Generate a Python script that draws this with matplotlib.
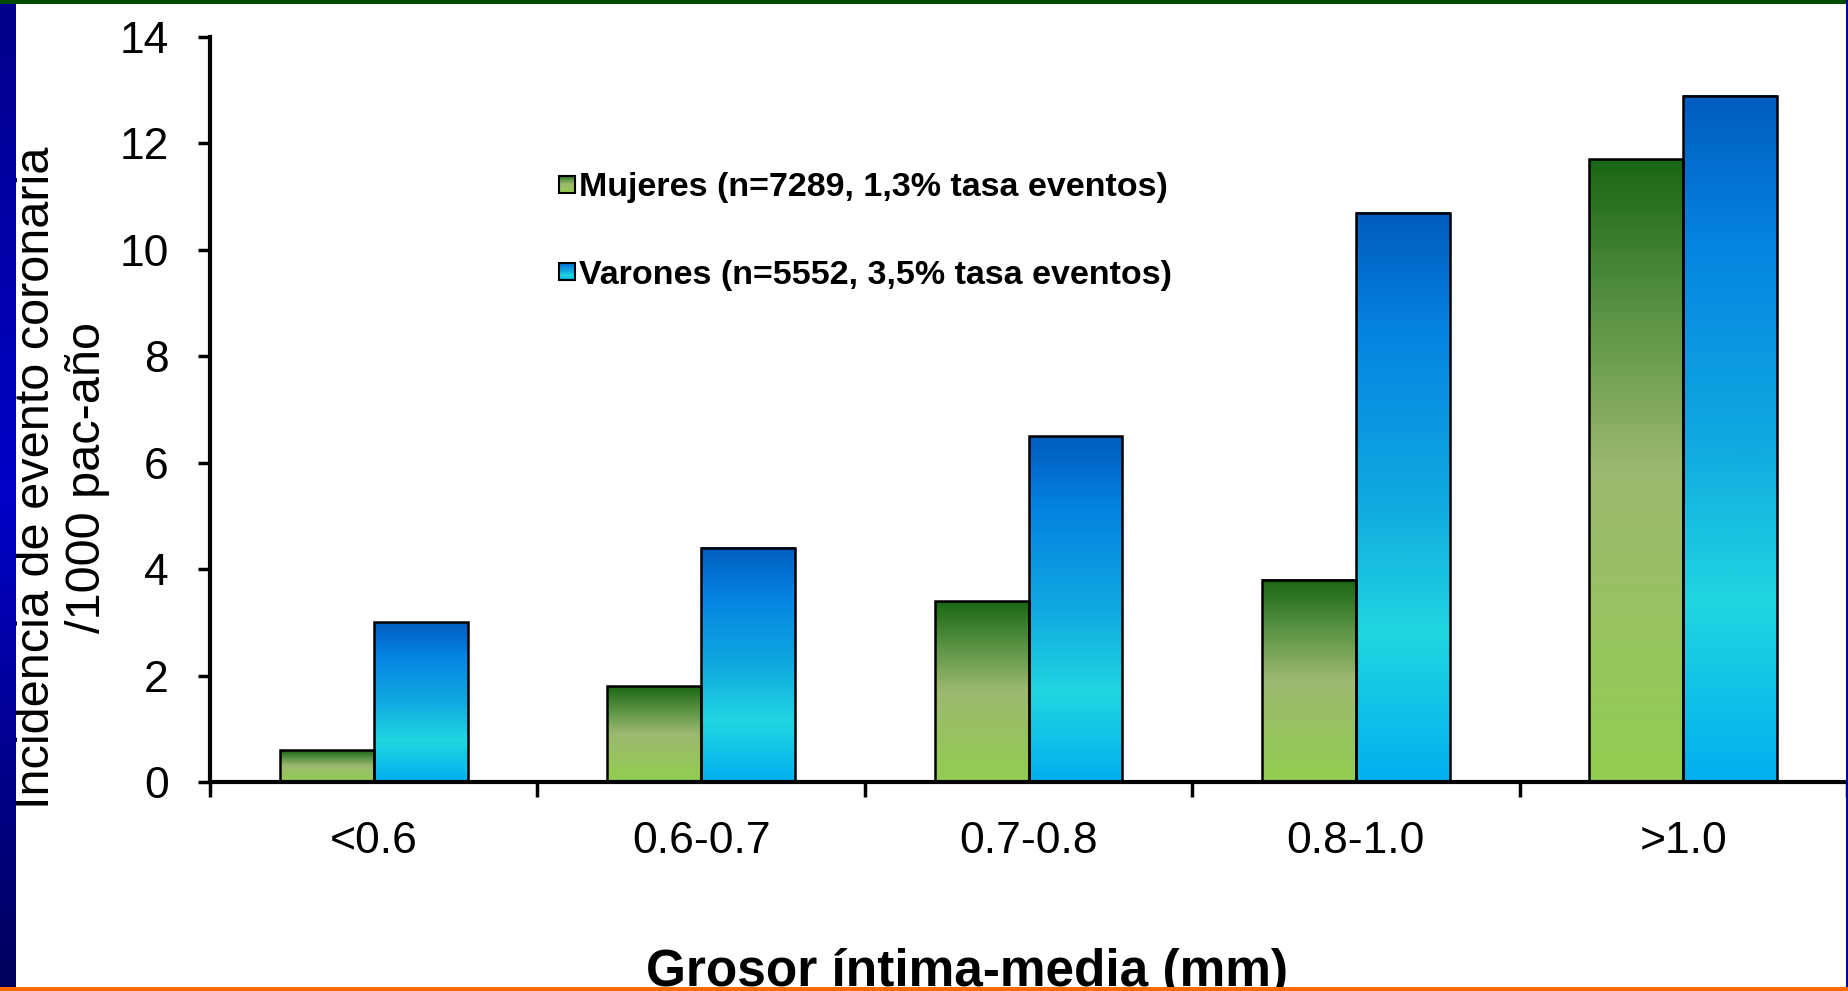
import numpy as np
import matplotlib
matplotlib.use('Agg')
import matplotlib.pyplot as plt
from matplotlib.colors import LinearSegmentedColormap
from matplotlib.patches import Rectangle

# Datos: incidencia de evento coronario por grosor intima-media
categorias = ['<0.6', '0.6-0.7', '0.7-0.8', '0.8-1.0', '>1.0']
mujeres = [0.6, 1.8, 3.4, 3.8, 11.7]
varones = [3.0, 4.4, 6.5, 10.7, 12.9]
serie_mujeres = 'Mujeres (n=7289, 1,3% tasa eventos)'
serie_varones = 'Varones (n=5552, 3,5% tasa eventos)'
yticks = [0, 2, 4, 6, 8, 10, 12, 14]

plt.rcParams['font.family'] = ['Liberation Sans', 'DejaVu Sans']

W, H = 1849, 991
fig = plt.figure(figsize=(W / 100, H / 100), dpi=100)
fig.patch.set_facecolor('white')

# degradados de las barras (0 = base, 1 = techo)
verde = LinearSegmentedColormap.from_list(
    'verde', [(0, '#92cd50'), (0.5, '#9db970'), (0.75, '#5a9343'), (1, '#1a6614')])
azul = LinearSegmentedColormap.from_list(
    'azul', [(0, '#00b0f0'), (0.26, '#20d6e0'), (0.5, '#10a8e0'), (0.78, '#0585e2'), (1, '#005cbf')])
grad = np.linspace(0, 1, 256).reshape(-1, 1)

ax = fig.add_axes([210 / W, 1 - 782 / H, (1847 - 210) / W, (782 - 37) / H])

ancho = 0.287
centros = np.arange(len(categorias)) + 0.5


def barra(x0, alto, cmap):
    ax.imshow(grad, extent=[x0, x0 + ancho, 0, alto], origin='lower',
              cmap=cmap, aspect='auto', interpolation='bilinear', zorder=2)
    ax.bar(x0, alto, ancho, align='edge', facecolor='none',
           edgecolor='black', linewidth=1.8, zorder=3)


for c, m, v in zip(centros, mujeres, varones):
    barra(c - ancho, m, verde)
    barra(c, v, azul)

# leyenda manual con cuadritos degradados
for (y0, y1, yb), cmap, txt in [((0.790, 0.814, 0.786), verde, serie_mujeres),
                                ((0.674, 0.697, 0.669), azul, serie_varones)]:
    ax.imshow(grad, extent=[0.213, 0.223, y0, y1], origin='lower', cmap=cmap,
              aspect='auto', transform=ax.transAxes, zorder=4)
    ax.add_patch(Rectangle((0.213, y0), 0.010, y1 - y0, transform=ax.transAxes,
                           facecolor='none', edgecolor='black', linewidth=1.5, zorder=5))
    ax.text(0.2255, yb, txt, transform=ax.transAxes, fontsize=24.5,
            fontweight='bold', va='baseline', ha='left')

ax.set_xlim(0, len(categorias))
ax.set_ylim(0, 14)

for s in ['top', 'right']:
    ax.spines[s].set_visible(False)
for s in ['left', 'bottom']:
    ax.spines[s].set_linewidth(3)

ax.set_yticks(yticks)
ax.set_yticklabels([str(t) for t in yticks])
ax.set_xticks(np.arange(len(categorias) + 1))
ax.set_xticklabels([])
ax.set_xticks(centros, categorias, minor=True)
ax.tick_params(axis='y', direction='out', length=8.6, width=2.5, pad=21, labelsize=32)
ax.tick_params(axis='x', which='major', direction='out', length=11, width=2.5)
ax.tick_params(axis='x', which='minor', length=0, pad=28, labelsize=32)

fig.text(62 / W, 1 - 478 / H, 'Incidencia de evento coronaria\n/1000 pac-año',
         rotation=90, ha='center', va='center', multialignment='center',
         fontsize=35, linespacing=1.15)
fig.text(967 / W, 1 - 986 / H, 'Grosor íntima-media (mm)', ha='center',
         va='baseline', fontsize=37, fontweight='bold')

# marco de la diapositiva
franja = fig.add_axes([0, 0, 16 / W, 1], zorder=6)
tira = LinearSegmentedColormap.from_list('tira', ['#00005c', '#0000c8', '#00008a'])
franja.imshow(grad, origin='lower', cmap=tira, aspect='auto', extent=[0, 1, 0, 1])
franja.set_axis_off()

fig.patches.append(Rectangle((0, 1 - 4 / H), 1, 4 / H, transform=fig.transFigure,
                             facecolor='#004b00', edgecolor='none', zorder=10))
fig.patches.append(Rectangle((1846 / W, 0), 3 / W, 1, transform=fig.transFigure,
                             facecolor='#0000a0', edgecolor='none', zorder=10))
fig.patches.append(Rectangle((0, 0), 1, 4 / H, transform=fig.transFigure,
                             facecolor='#ff6a00', edgecolor='none', zorder=10))

fig.savefig('out.png', dpi=100, facecolor='white')
